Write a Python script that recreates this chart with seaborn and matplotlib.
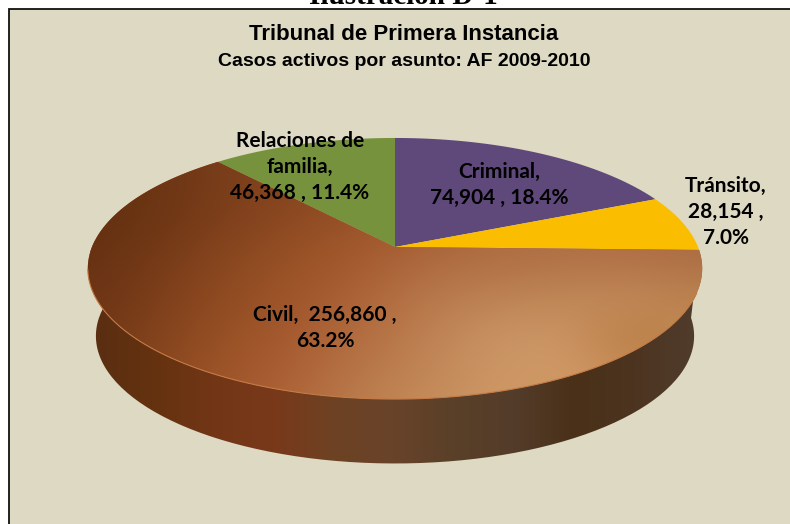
import numpy as np
import matplotlib
matplotlib.use("Agg")
import matplotlib.pyplot as plt
import seaborn as sns
from matplotlib.colors import to_rgb, LinearSegmentedColormap
from matplotlib.patches import Rectangle, PathPatch
from matplotlib.path import Path
from matplotlib.transforms import Transform

# data
categories = ["Criminal", "Tránsito", "Civil", "Relaciones de familia"]
cases = [74904, 28154, 256860, 46368]
shares = ["18.4%", "7.0%", "63.2%", "11.4%"]
slice_colors = ["#5F497A", "#FBBD00", "#A5592B", "#76923C"]

# shading of the civil slice, one row per band of the picture
civil_shade = [
    ["#60300f", "#6c3515", "#7a3e1a", "#85451f", "#8c4a23", "#925027", "#9a572c", "#a0603a", "#a0603a", "#a0603a"],
    ["#62300f", "#6e3614", "#7e3f1b", "#8e4a22", "#9c5429", "#a55c30", "#ad6a3e", "#ae6c42", "#ae6c42", "#ab6a40"],
    ["#673213", "#763a18", "#8a4820", "#9a5226", "#a55a2e", "#ae6a40", "#b07044", "#b07246", "#b07246", "#ac6e44"],
    ["#6b3414", "#7e3f1b", "#914c22", "#a0552a", "#ad6438", "#b87a4c", "#be8454", "#c08858", "#c48c5c", "#bc8450"],
    ["#6f3716", "#85441d", "#9a5226", "#a85c30", "#b46e40", "#be8254", "#cb9464", "#ce9868", "#b87a40", "#c08a55"],
    ["#75391a", "#8a481f", "#a0552a", "#ae6236", "#b87a4c", "#c28858", "#cc9664", "#d09a66", "#c88f5c", "#c08850"],
    ["#7a3c1a", "#8f4b22", "#a65a2c", "#b06a3c", "#be8050", "#c88e5c", "#d09a66", "#d09a66", "#c88f5c", "#c08850"],
]
wall_shade = ["#5a2e12", "#64320f", "#723616", "#78391a", "#6e4224", "#68432a",
              "#5a4028", "#533c2a", "#4a3018", "#4c3420", "#503c2c"]


class Tilt(Transform):
    # unit circle to picture pixels, with the near side larger
    input_dims = output_dims = 2

    def __init__(self, cx, cy, a, c, k=0.1648):
        super().__init__()
        self.p = (cx, cy, a, c, k)

    def transform_non_affine(self, xy):
        cx, cy, a, c, k = self.p
        xy = np.asarray(xy, float)
        w = 1 + k * xy[:, 1]
        return np.column_stack([cx + a * xy[:, 0] / w, cy - c * xy[:, 1] / w])

    def transform_path_non_affine(self, path):
        # flatten the arcs first, the mapping does not keep beziers
        pts = []
        for curve, code in path.iter_bezier():
            pts.append(curve(np.linspace(0, 1, 24)))
        return Path(self.transform_non_affine(np.vstack(pts)))


sns.set_theme(style="white")
fig = plt.figure(figsize=(7.9, 5.24), dpi=100, facecolor="white")
ax = fig.add_axes([0, 0, 1, 1])

wedges, _ = ax.pie(cases, colors=sns.color_palette(slice_colors), startangle=90,
                   counterclock=False, wedgeprops={"linewidth": 0, "zorder": 4})
ax.set_aspect("auto")
ax.set_xlim(0, 790)
ax.set_ylim(524, 0)
ax.axis("on")
ax.set_xticks([])
ax.set_yticks([])
for s in ax.spines.values():
    s.set_visible(False)

ax.add_patch(Rectangle((8.5, 9), 800, 540, facecolor="#DDD9C3", edgecolor="#111111",
                       linewidth=1.3, zorder=1))

top = Tilt(395, 247, 303, 127)
bottom = Tilt(395, 315, 295, 124)
for w in wedges:
    w.set_transform(top + ax.transData)

# side wall of the civil slice
civil = wedges[categories.index("Civil")]
theta = np.radians(np.linspace(civil.theta1, civil.theta2, 200))
rim = np.column_stack([np.cos(theta), np.sin(theta)])
wall_xy = np.vstack([top.transform(rim), bottom.transform(rim)[::-1]])
wall = PathPatch(Path(wall_xy), facecolor="none", edgecolor="none",
                 transform=ax.transData, zorder=2)
ax.add_patch(wall)
wall_cmap = LinearSegmentedColormap.from_list("wall", wall_shade)
im = ax.imshow(np.linspace(0, 1, 400)[None, :], cmap=wall_cmap, extent=(90, 697, 470, 240),
               aspect="auto", interpolation="bilinear", zorder=3)
im.set_clip_path(wall)

# shading on the top of the civil slice
grid = np.array([[to_rgb(c) for c in row] for row in civil_shade])
im2 = ax.imshow(grid, extent=(60, 730, 440, 160), aspect="auto",
                interpolation="bicubic", zorder=5)
im2.set_clip_path(civil)

# light line along the front rim
front = np.radians(np.linspace(-20, -170, 120))
edge = top.transform(np.column_stack([np.cos(front), np.sin(front)]))
ax.plot(edge[:, 0], edge[:, 1], color="#C47A45", lw=0.8, zorder=6)

ax.set_xlim(0, 790)
ax.set_ylim(524, 0)

label_font = dict(family="Lato", fontweight="bold", fontsize=15, color="black",
                  ha="center", va="center", linespacing=1.4, zorder=8)
ax.text(300, 167, f"Relaciones de\nfamilia,\n{cases[3]:,} , {shares[3]}", **label_font)
ax.text(499, 185, f"{categories[0]},\n{cases[0]:,} , {shares[0]}", **label_font)
label_font["linespacing"] = 1.35
ax.text(726, 212, f"{categories[1]},\n{cases[1]:,} ,\n{shares[1]}", **label_font)
label_font["linespacing"] = 1.4
ax.text(325, 328, f"{categories[2]},  {cases[2]:,} ,\n{shares[2]}", **label_font)

title_font = dict(family=["Liberation Sans Narrow", "Liberation Sans"], fontweight="bold",
                  color="black", ha="center", va="center", zorder=8)
ax.text(403.5, 35, "Tribunal de Primera Instancia", fontsize=16, **title_font)
ax.text(404.5, 62, "Casos activos por asunto: AF 2009-2010", fontsize=14, **title_font)
ax.text(403, 4, "Ilustración D-1", family="Liberation Serif", fontweight="bold",
        fontsize=21, color="black", ha="center", va="baseline", clip_on=False, zorder=8)

fig.savefig("out.png", dpi=100)
